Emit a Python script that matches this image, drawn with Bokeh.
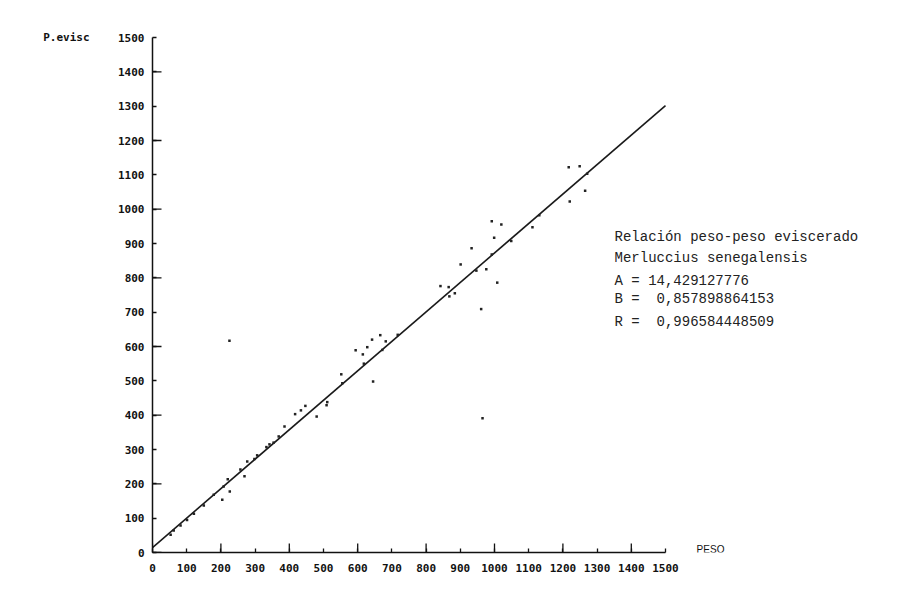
from bokeh.plotting import figure
from bokeh.models import Range1d, FixedTicker, Label, LinearAxis
from bokeh.embed import file_html
from bokeh.resources import INLINE

# ---- data ----
peso = [1217, 1249, 1271, 1265, 1220, 1131, 1111, 1049, 992, 1020, 999, 992, 976,
        1008, 933, 901, 947, 842, 866, 884, 868, 961, 965, 666, 642, 682, 717, 594,
        628, 615, 672, 618, 552, 555, 645, 511, 509, 447, 434, 417, 480, 386, 369,
        333, 306, 277, 257, 269, 220, 208, 226, 204, 179, 150, 121, 101, 82, 62, 53,
        342, 354, 298, 225]
peso_evisc = [1122, 1125, 1103, 1054, 1022, 982, 947, 907, 965, 955, 917, 868, 825,
              786, 886, 839, 821, 776, 773, 755, 746, 709, 391, 633, 620, 615, 634, 589,
              598, 577, 590, 550, 519, 493, 498, 438, 429, 427, 414, 403, 396, 367, 338,
              307, 283, 265, 242, 222, 213, 192, 178, 154, 168, 137, 113, 95, 79, 64, 52,
              315, 320, 272, 617]
A = 14.429127776
B = 0.857898864153
ticks = list(range(0, 1501, 100))
long_ticks = list(range(0, 1501, 200))

W, H = 890, 584
LEFT, TOP, BOTTOM = 152, 37, 32
x_end = 1500 * (W - LEFT) / 513.0   # frame runs on to the right edge; axis stops at 1500

p = figure(width=W, height=H, x_range=Range1d(0, x_end), y_range=Range1d(0, 1500),
           output_backend="svg", toolbar_location=None,
           min_border_left=LEFT, min_border_right=0, min_border_top=TOP, min_border_bottom=BOTTOM)
p.outline_line_color = None
p.grid.visible = False
p.background_fill_color = "white"
p.border_fill_color = "white"

for ax in (p.xaxis[0], p.yaxis[0]):
    ax.ticker = FixedTicker(ticks=ticks)
    ax.bounds = (0, 1500)
    ax.major_tick_in = 4
    ax.major_tick_out = 0
    ax.minor_tick_line_color = None
    ax.axis_line_width = 1.5
    ax.axis_line_color = "#111111"
    ax.major_tick_line_color = "#111111"
    ax.major_tick_line_width = 1.3
    ax.major_label_text_font = "DejaVu Sans Mono"
    ax.major_label_text_font_style = "bold"
    ax.major_label_text_font_size = "11px"
    ax.major_label_text_color = "#111111"
p.xaxis[0].major_label_standoff = 11
p.yaxis[0].major_label_standoff = 8

# y-axis title, set beside the top tick
ytitle = LinearAxis(ticker=FixedTicker(ticks=[1500]), major_label_overrides={1500: "P.evisc"},
                    axis_line_color=None, major_tick_line_color=None, minor_tick_line_color=None,
                    major_label_text_font="DejaVu Sans Mono", major_label_text_font_style="bold",
                    major_label_text_font_size="11px", major_label_text_color="#111111",
                    major_label_standoff=20)
p.add_layout(ytitle, "left")

# longer ticks on every second hundred
x_ext = 1500 / 513 * 9
y_ext = 1500 / 515 * 9
p.segment(x0=long_ticks, y0=[0] * len(long_ticks), x1=long_ticks, y1=[y_ext] * len(long_ticks),
          line_color="#111111", line_width=1.3)
p.segment(x0=[0] * len(long_ticks), y0=long_ticks, x1=[x_ext] * len(long_ticks), y1=long_ticks,
          line_color="#111111", line_width=1.3)

# regression line
lx = [0, 1500]
ly = [A + B * v for v in lx]
p.line(lx, ly, line_color="#1a1a1a", line_width=1.6)

# data points
p.scatter(peso, peso_evisc, size=2.5, marker="square", fill_color="#222222",
          line_color=None)

# x-axis title
p.add_layout(Label(x=1591, y=10, text="PESO", text_font="Liberation Sans",
                   text_font_size="10px", text_baseline="middle", text_color="#111111"))

# annotation block
notes = ["Relación peso-peso eviscerado", "Merluccius senegalensis",
         "A = 14,429127776", "B = \u00a00,857898864153", "R = \u00a00,996584448509"]
note_y = [920, 859, 792, 737, 670]
for t, yy in zip(notes, note_y):
    p.add_layout(Label(x=1351, y=yy, text=t, text_font="Liberation Mono",
                       text_font_size="14px", text_baseline="middle", text_color="#222222"))

open("out.html", "w").write(file_html(p, INLINE))
